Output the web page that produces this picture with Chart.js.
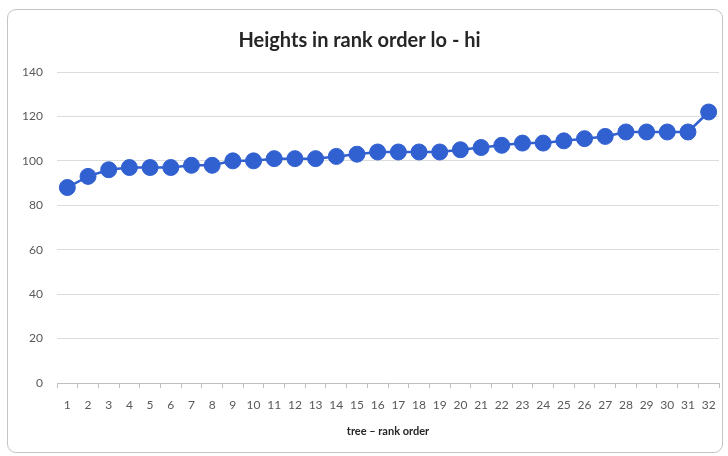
<!DOCTYPE html>
<html>
<head>
<meta charset="utf-8">
<script src="https://cdn.jsdelivr.net/npm/chart.js@4.4.1/dist/chart.umd.min.js"></script>
<style>
    body { margin: 0; background: #fff; }
    #frame {
        position: absolute; left: 7px; top: 9px; width: 714px; height: 442px;
        border: 1px solid #c4c4c4; border-radius: 9px;
    }
    #wrap { position: absolute; left: 0; top: 0; width: 728px; height: 456px; }
</style>
</head>
<body>
<div id="frame"></div>
<div id="wrap"><canvas id="heightChart" width="728" height="456"></canvas></div>
<script>
// tree rank 1..32, heights sorted low to high
const ranks = Array.from({ length: 32 }, (_, i) => String(i + 1));
const heights = [88, 93, 96, 97, 97, 97, 98, 98, 100, 100, 101, 101, 101, 102, 103, 104,
                 104, 104, 104, 105, 106, 107, 108, 108, 109, 110, 111, 113, 113, 113, 113, 122];
const yMin = 0;
const yMax = 140;
const yStep = 20;

const blue = '#3160d0';
const tickColor = '#595959';

const ctx = document.getElementById('heightChart').getContext('2d');
new Chart(ctx, {
    type: 'line',
    data: {
        labels: ranks,
        datasets: [{
            label: 'Height',
            data: heights,
            borderColor: blue,
            borderWidth: 2.5,
            backgroundColor: blue,
            pointBackgroundColor: blue,
            pointBorderColor: blue,
            pointRadius: 8,
            pointBorderWidth: 1,
            tension: 0
        }]
    },
    options: {
        responsive: false,
        animation: false,
        layout: { padding: { left: 0, right: 9, top: 0, bottom: 14 } },
        plugins: {
            legend: { display: false },
            tooltip: { enabled: false },
            title: {
                display: true,
                text: 'Heights in rank order lo - hi',
                color: '#262626',
                font: { family: 'Lato', size: 20, weight: 'bold' },
                padding: { top: 29, bottom: 19 }
            }
        },
        scales: {
            x: {
                offset: true,
                grid: {
                    offset: true,
                    drawOnChartArea: false,
                    drawTicks: true,
                    tickLength: 5,
                    color: '#bfbfbf'
                },
                border: { display: true, color: '#bfbfbf' },
                ticks: {
                    color: tickColor,
                    font: { family: 'Lato', size: 12 },
                    maxRotation: 0,
                    autoSkip: false,
                    padding: 10
                },
                title: {
                    display: true,
                    text: 'tree \u2013 rank order',
                    color: '#262626',
                    font: { family: 'Lato', size: 11, weight: 'bold' },
                    padding: { top: 6 }
                },
                afterFit: (scale) => { scale.height = 59; }
            },
            y: {
                min: yMin,
                max: yMax,
                ticks: {
                    stepSize: yStep,
                    color: tickColor,
                    font: { family: 'Lato', size: 12 },
                    padding: 14
                },
                grid: { color: '#dcdcdc', drawTicks: false },
                border: { display: false },
                afterFit: (scale) => { scale.width = 57; }
            }
        }
    }
});
</script>
</body>
</html>
